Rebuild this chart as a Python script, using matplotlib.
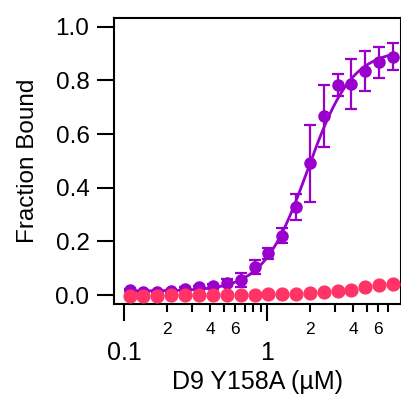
import numpy as np
import matplotlib
matplotlib.use("Agg")
import matplotlib.pyplot as plt
from matplotlib.ticker import FixedLocator, FixedFormatter, NullFormatter

plt.rcParams['font.family'] = ['Liberation Sans', 'DejaVu Sans']

# concentration of D9 Y158A (uM)
conc = [0.11, 0.136, 0.17, 0.213, 0.268, 0.335, 0.418, 0.523, 0.653, 0.817,
        1.02, 1.28, 1.6, 2.0, 2.49, 3.12, 3.9, 4.88, 6.1, 7.6]
# purple series (mean and error)
purple_y = [0.019, 0.011, 0.011, 0.015, 0.024, 0.029, 0.035, 0.046, 0.056, 0.104,
            0.156, 0.221, 0.329, 0.491, 0.667, 0.783, 0.786, 0.835, 0.867, 0.888]
purple_err = [0.005, 0.005, 0.005, 0.005, 0.006, 0.006, 0.008, 0.014, 0.026, 0.025,
              0.02, 0.028, 0.048, 0.143, 0.115, 0.041, 0.092, 0.073, 0.058, 0.05]
# pink series
pink_y = [-0.004, -0.004, -0.003, -0.001, -0.001, 0.0, -0.001, 0.001, 0.001, 0.001,
          0.003, 0.003, 0.005, 0.0075, 0.01, 0.015, 0.019, 0.029, 0.036, 0.041]

# hill fit parameters for the purple curve
fit_base = 0.015
fit_top = 0.9
fit_kd = 1.92
fit_n = 2.8

purple = "#9900cc"
pink = "#ff3366"

fig = plt.figure(figsize=(4.01, 3.96), dpi=100)
ax = fig.add_axes([0.2855, 0.2311, 0.7133, 0.7247])

xfit = np.logspace(np.log10(conc[0]), np.log10(conc[-1]), 200)
yfit = fit_base + fit_top * xfit**fit_n / (fit_kd**fit_n + xfit**fit_n)
ax.plot(xfit, yfit, color=purple, lw=2, zorder=2)

ax.errorbar(conc, purple_y, yerr=purple_err, fmt='o', color=purple, ms=8,
            elinewidth=1.6, capsize=4.2, capthick=1.6, zorder=3)
ax.plot(conc, pink_y, 'o', color=pink, ms=9.2, zorder=4)

ax.set_xscale('log')
ax.set_xlim(0.0855, 8.6)
ax.set_ylim(-0.035, 1.034)

ax.xaxis.set_major_locator(FixedLocator([0.1, 1]))
ax.xaxis.set_major_formatter(FixedFormatter(['0.1', '1']))
minor_ticks = [0.2, 0.3, 0.4, 0.5, 0.6, 0.7, 0.8, 0.9, 2, 3, 4, 5, 6, 7]
minor_labels = ['2', '', '4', '', '6', '', '', '', '2', '', '4', '', '6', '']
ax.xaxis.set_minor_locator(FixedLocator(minor_ticks))
ax.xaxis.set_minor_formatter(FixedFormatter(minor_labels))

ax.set_yticks([0.0, 0.2, 0.4, 0.6, 0.8, 1.0])
ax.set_yticklabels(['0.0', '0.2', '0.4', '0.6', '0.8', '1.0'])
ax.yaxis.set_minor_formatter(NullFormatter())

for s in ax.spines.values():
    s.set_linewidth(1.5)
ax.tick_params(axis='both', which='major', direction='out', length=12, width=1.5,
               labelsize=17.5)
ax.tick_params(axis='x', which='major', pad=14, labelsize=18)
ax.tick_params(axis='x', which='minor', direction='out', length=5.5, width=1.5,
               pad=7, labelsize=12.5)
ax.tick_params(axis='y', which='major', pad=6)

ax.set_xlabel("D9 Y158A (µM)", fontsize=18, labelpad=4)
ax.set_ylabel("Fraction Bound", fontsize=17.5, labelpad=12)

fig.savefig("out.png", dpi=100)
